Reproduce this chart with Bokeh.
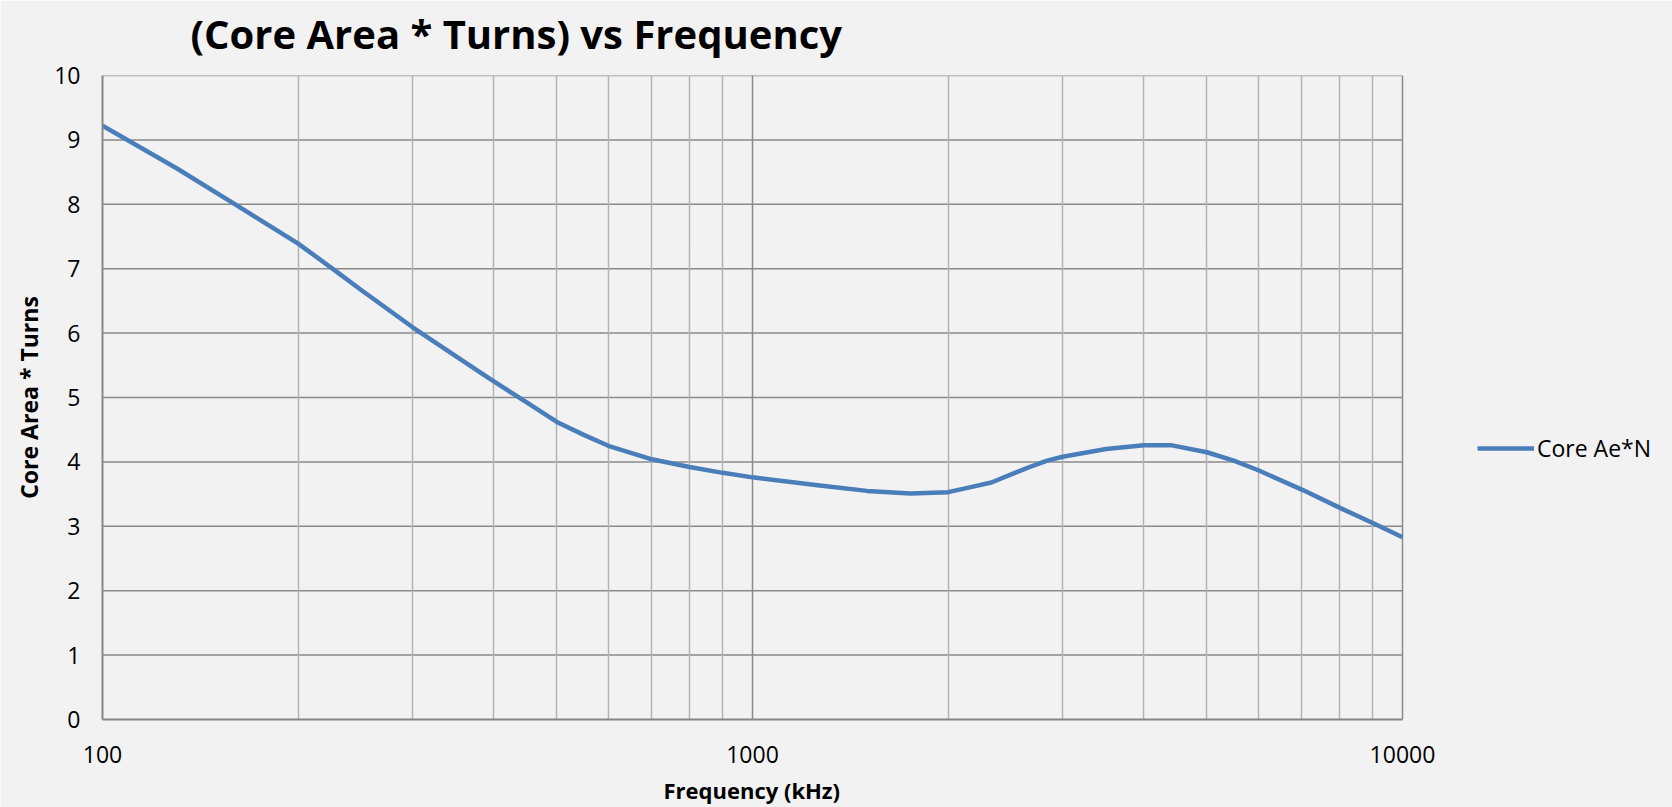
from bokeh.plotting import figure
from bokeh.models import FixedTicker, Legend, LegendItem, Range1d, Title
from bokeh.embed import file_html
from bokeh.resources import INLINE

# Data
freq_khz = [100, 130, 160, 200, 228, 250, 300, 381, 400, 431, 450, 500, 550, 600, 650,
            700, 800, 900, 1000, 1250, 1500, 1750, 2000, 2150, 2330, 2550, 2700, 2840,
            3000, 3500, 4000, 4400, 5000, 5500, 6000, 7000, 8000, 9000, 10000]
core_ae_n = [9.22, 8.56, 8.0, 7.39, 6.97, 6.67, 6.09, 5.39, 5.25, 5.04, 4.92, 4.62, 4.42,
             4.25, 4.14, 4.04, 3.92, 3.83, 3.76, 3.64, 3.55, 3.51, 3.53, 3.60, 3.68, 3.84,
             3.94, 4.02, 4.08, 4.20, 4.26, 4.26, 4.15, 4.02, 3.87, 3.57, 3.29, 3.05, 2.83]
x_major = [100, 1000, 10000]
x_minor = [200, 300, 400, 500, 600, 700, 800, 900,
           2000, 3000, 4000, 5000, 6000, 7000, 8000, 9000]
y_ticks = list(range(0, 11))

FONT = "Open Sans"
BG = "#f2f2f2"
GRID = "#8a8a8a"

# layout: plot area is 1300 px wide (100..10000); the frame continues to the right
# so that the legend (drawn in the frame) sits in the right-hand margin
W, H = 1672, 807
LEFT, RIGHT, TOP, BOTTOM = 102, 4, 75, 88
AREA_W = 1300
frame_w = W - LEFT - RIGHT
x_end = x_major[-1] * 10 ** ((frame_w - AREA_W) / (AREA_W / 2))

p = figure(width=W, height=H, x_axis_type="log",
           x_range=Range1d(x_major[0], x_end), y_range=Range1d(y_ticks[0], y_ticks[-1]),
           output_backend="svg", toolbar_location=None,
           min_border_left=LEFT, min_border_right=RIGHT, min_border_top=TOP,
           min_border_bottom=BOTTOM,
           background_fill_color=BG, border_fill_color=BG,
           title="(Core Area * Turns) vs Frequency")


def set_padding(t, pad, fallback):
    if "padding" in t.properties():
        try:
            t.padding = pad
            return True
        except Exception:
            try:
                t.padding = fallback
                return True
            except Exception:
                return False
    return False


p.title.text_font = FONT
p.title.text_font_size = "40px"
p.title.text_font_style = "bold"
p.title.text_color = "#000000"
p.title.align = "left"
p.title.standoff = 0
p.title.offset = 79 if set_padding(p.title, dict(left=9, right=0, top=0, bottom=15), 8) else 88

# horizontal grid lines (incl. top border), limited to the plot area 100..10000
n = len(y_ticks)
p.segment(x0=[x_major[0]] * (n - 1), x1=[x_major[-1]] * (n - 1),
          y0=y_ticks[1:], y1=y_ticks[1:], line_color=GRID, line_width=1.5,
          level="underlay")

r = p.line(freq_khz, core_ae_n, line_color="#4a7ebb", line_width=4.5, line_join="round")

# axes
p.xaxis.ticker = FixedTicker(ticks=x_major, minor_ticks=x_minor)
p.yaxis.ticker = FixedTicker(ticks=y_ticks)
p.xaxis.bounds = (x_major[0], x_major[-1])
for ax in (p.xaxis[0], p.yaxis[0]):
    ax.major_label_text_font = FONT
    ax.major_label_text_font_size = "23px"
    ax.major_label_text_color = "#000000"
    ax.axis_label_text_font = FONT
    ax.axis_label_text_font_style = "bold"
    ax.axis_label_text_color = "#000000"
    ax.major_tick_line_color = None
    ax.minor_tick_line_color = None
    ax.axis_line_color = "#868686"
    ax.axis_line_width = 2

p.yaxis.axis_label = "Core Area * Turns"
p.yaxis.axis_label_text_font_size = "23px"
p.xaxis.major_label_standoff = 20
p.yaxis.major_label_standoff = 16
p.yaxis.axis_label_standoff = 6
p.xaxis.major_label_overrides = {100: "100", 1000: "1000", 10000: "10000"}

# x-axis title, centred under the plot area (100..10000) rather than the whole frame
xlabel = Title(text="Frequency (kHz)", align="left", standoff=0,
               text_font=FONT, text_font_size="22px", text_font_style="bold",
               text_color="#000000")
xlabel.offset = 554 if set_padding(xlabel, dict(left=7, right=0, top=7, bottom=0), 4) else 561
p.add_layout(xlabel, "below")

# vertical grid (major + minor) from the axis ticker
p.xgrid.grid_line_color = GRID
p.xgrid.grid_line_width = 1.5
p.xgrid.minor_grid_line_color = "#b4b4b4"
p.xgrid.minor_grid_line_width = 1.5
p.ygrid.grid_line_color = None
p.outline_line_color = None

# legend in the right-hand margin
legend = Legend(items=[LegendItem(label="Core Ae*N", renderers=[r])],
                location=(1375, 255), orientation="vertical",
                background_fill_alpha=0, border_line_color=None,
                padding=0, margin=0, spacing=0,
                glyph_width=57, glyph_height=20, label_height=20,
                label_standoff=3,
                label_text_font=FONT, label_text_font_size="23px",
                label_text_color="#000000")
p.add_layout(legend, "center")

open("out.html", "w").write(file_html(p, INLINE))
